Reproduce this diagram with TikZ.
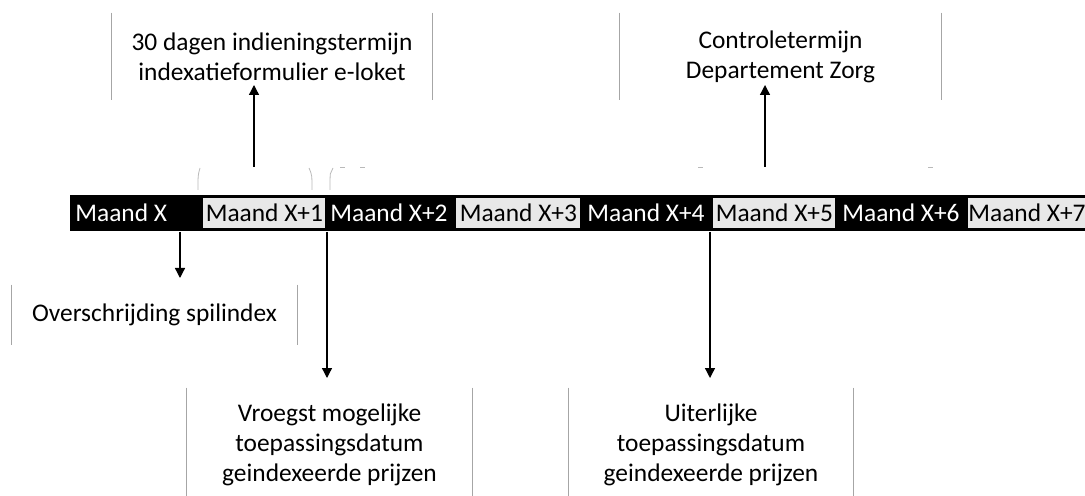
\documentclass[tikz,border=0pt]{standalone}
\usepackage{fontspec}
\setmainfont{Carlito}
\usetikzlibrary{arrows.meta}

\begin{document}
\begin{tikzpicture}[
    x=0.5pt, y=-0.5pt,
    every node/.style={font=\fontsize{12.7}{15}\selectfont},
    dark month/.style={anchor=west, inner sep=0pt, text=white},
    light month/.style={anchor=west, inner sep=0pt, fill=gray!18, minimum height=15pt, minimum width=#1},
    textbox/.style={align=center, inner sep=0pt, minimum width=#1},
    side/.style={gray!70, line width=0.4pt},
    faint/.style={gray!55, line width=0.4pt},
    arrow/.style={-{Triangle[length=5pt, width=5pt]}, line width=0.65pt} % pijlstijl
]
\useasboundingbox (0,0) rectangle (1085,496);

% tijdlijn
\node[fill=black, anchor=north west, inner sep=0pt, minimum width=507.5pt, minimum height=18pt] (bar) at (70,195) {};

% donkere maanden
\foreach \x/\i/\lbl in {75/0/X, 330/2/X+2, 587/4/X+4, 842/6/X+6} {
    \node[dark month] (m\i) at (\x,213) {Maand \lbl};
}

% lichte maanden
\foreach \x/\i/\w in {203/1/61pt, 456/3/62pt, 713/5/61pt, 968/7/57pt} {
    \node[light month=\w] (m\i) at (\x,213) {Maand X+\i};
}

% tekstvakken
\node[textbox=160pt, minimum height=43.5pt] (indien) at (272,56.5) {30 dagen indieningstermijn\\indexatieformulier e-loket};
\node[textbox=160.5pt, minimum height=43.5pt] (controle) at (780.5,56.5) {Controletermijn\\Departement Zorg};
\node[textbox=142.5pt, minimum height=30pt] (over) at (154.5,315) {Overschrijding spilindex};
\node[textbox=142.5pt, minimum height=57pt] (vroegst) at (329.5,445) {Vroegst mogelijke\\toepassingsdatum\\geindexeerde prijzen};
\node[textbox=142pt, minimum height=57pt] (uiterlijk) at (711,445) {Uiterlijke\\toepassingsdatum\\geindexeerde prijzen};

% zijlijnen van de vakken
\foreach \n in {indien, controle, over, vroegst, uiterlijk} {
    \draw[side] (\n.north west) -- (\n.south west);
    \draw[side] (\n.north east) -- (\n.south east);
}

% pijlpunten en beginpunten
\coordinate (t0) at (180,278);
\coordinate (t1) at (327,378);
\coordinate (t2) at (710,378);
\coordinate (s3) at (254,167);
\coordinate (t3) at (254,85);
\coordinate (s4) at (765,167);
\coordinate (t4) at (765,85);

% pijlen
\draw[arrow] (bar.south -| t0) -- (t0);
\draw[arrow] (bar.south -| t1) -- (t1);
\draw[arrow] (bar.south -| t2) -- (t2);
\draw[arrow] (s3) -- (t3);
\draw[arrow] (s4) -- (t4);

% resten van accolades
\draw[faint] (200,168) .. controls (198,175) .. (198,190);
\draw[faint] (309,168) .. controls (312,175) .. (312,190);
\draw[faint] (333,168) .. controls (330,172) .. (330,190);
\foreach \x in {340, 360, 698, 928} {
    \draw[faint] (\x,167) -- (\x+5,167);
}

\end{tikzpicture}
\end{document}
